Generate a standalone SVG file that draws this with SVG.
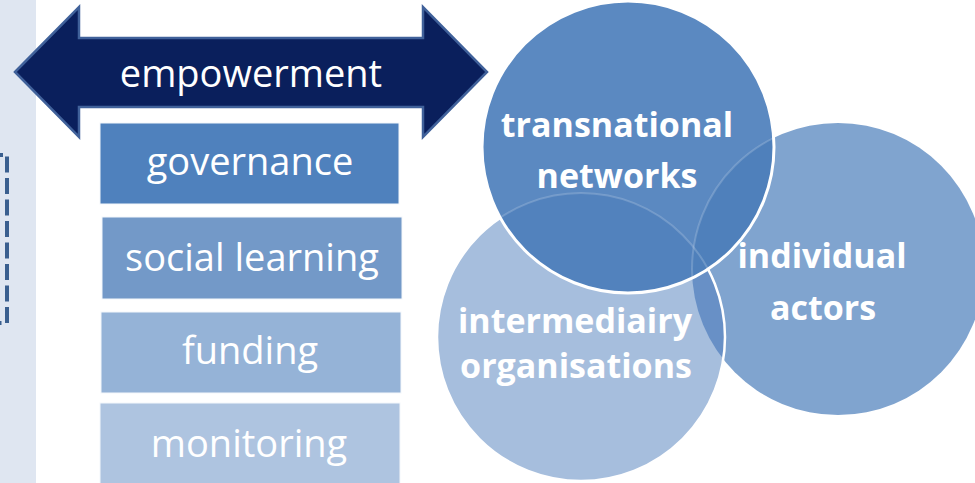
<svg xmlns="http://www.w3.org/2000/svg" width="975" height="483" viewBox="0 0 975 483">
<style>
.lbl{font-family:"Open Sans","Noto Sans","Liberation Sans",sans-serif;font-size:38px;fill:#ffffff;text-anchor:middle}
.cl{font-family:"Open Sans","Noto Sans","Liberation Sans",sans-serif;font-weight:700;font-size:34px;fill:#ffffff;text-anchor:middle}
.box{stroke:#f4f7fb;stroke-width:1}
</style>
<defs>
<clipPath id="clipT"><circle cx="628" cy="147" r="146"/></clipPath>
<clipPath id="clipA"><circle cx="838" cy="269" r="146"/></clipPath>
</defs>
<rect width="975" height="483" fill="#ffffff"/>
<g id="side-band">
<rect x="0" y="0" width="36" height="483" fill="#dfe6f1"/>
<path d="M-30,155 H7 V323 H-30" fill="none" stroke="#3a5f8f" stroke-width="4" stroke-dasharray="16 5.5" stroke-dashoffset="4.5"/>
</g>
<g id="empowerment">
<polygon points="15,72 79,7 79,38 423,38 423,7 487,72 423,137 423,107 79,107 79,137" fill="#0a1f5c" stroke="#40619a" stroke-width="2.5" stroke-linejoin="miter"/>
<text class="lbl" x="251" y="87">empowerment</text>
</g>
<g id="governance">
<rect class="box" x="100" y="123" width="299" height="81" fill="#4f81bd"/>
<text class="lbl" x="250" y="175">governance</text>
</g>
<g id="social-learning">
<rect class="box" x="102" y="217" width="300" height="82" fill="#7399c8"/>
<text class="lbl" x="252" y="271">social learning</text>
</g>
<g id="funding">
<rect class="box" x="101" y="312" width="300" height="81" fill="#95b3d7"/>
<text class="lbl" x="250" y="364">funding</text>
</g>
<g id="monitoring">
<rect class="box" x="100" y="403" width="300" height="85" fill="#aec4e0"/>
<text class="lbl" x="249" y="457">monitoring</text>
</g>
<g id="individual-actors">
<circle cx="838" cy="269" r="146" fill="#80a4cf"/>
</g>
<g id="intermediairy-organisations">
<circle cx="581" cy="337" r="144" fill="#a6bedd"/>
<g clip-path="url(#clipA)"><circle cx="581" cy="337" r="144" fill="#6890c6"/></g>
<circle cx="581" cy="337" r="144" fill="none" stroke="#ffffff" stroke-width="2.5"/>
</g>
<g id="transnational-networks">
<circle cx="628" cy="147" r="146" fill="#5b89c1"/>
<g clip-path="url(#clipT)">
<circle cx="581" cy="337" r="144" fill="#5282bd"/>
<circle cx="838" cy="269" r="146" fill="#4f80bb"/>
<circle cx="581" cy="337" r="144" fill="none" stroke="#ffffff" stroke-opacity="0.18" stroke-width="2"/>
<circle cx="838" cy="269" r="146" fill="none" stroke="#ffffff" stroke-opacity="0.18" stroke-width="2"/>
</g>
<circle cx="628" cy="147" r="146" fill="none" stroke="#ffffff" stroke-width="3"/>
</g>
<g id="circle-labels">
<text class="cl" x="617" y="137">transnational</text>
<text class="cl" x="617" y="188">networks</text>
<text class="cl" x="822" y="268">individual</text>
<text class="cl" x="823" y="320">actors</text>
<text class="cl" x="575" y="333">intermediairy</text>
<text class="cl" x="576" y="378">organisations</text>
</g>
<g id="connectors"></g>
</svg>
